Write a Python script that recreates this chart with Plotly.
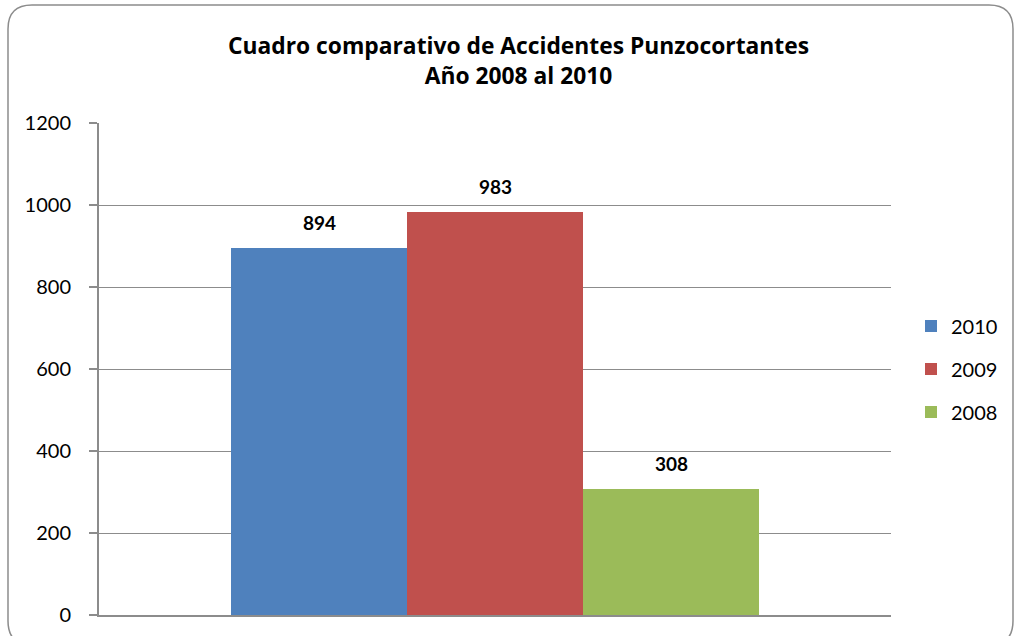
import plotly.graph_objects as go

# data
series = ["2010", "2009", "2008"]
values = [894, 983, 308]
colors = ["#4F81BD", "#C0504D", "#9BBB59"]
y_ticks = [0, 200, 400, 600, 800, 1000, 1200]

W, H = 1014, 636
L, R, T, B = 99, 123, 123, 21
pw, ph = W - L - R, H - T - B


def px2paper(x, y):
    return (x - L) / pw, 1 - (y - T) / ph


def rounded_rect(x0, y0, x1, y1, r):
    def p(x, y):
        a, b = px2paper(x, y)
        return f"{a:.5f},{b:.5f}"
    d = f"M {p(x0 + r, y0)} L {p(x1 - r, y0)} Q {p(x1, y0)} {p(x1, y0 + r)} "
    d += f"L {p(x1, y1 - r)} Q {p(x1, y1)} {p(x1 - r, y1)} "
    d += f"L {p(x0 + r, y1)} Q {p(x0, y1)} {p(x0, y1 - r)} "
    d += f"L {p(x0, y0 + r)} Q {p(x0, y0)} {p(x0 + r, y0)} Z"
    return d


fig = go.Figure()
for i, (name, v, c) in enumerate(zip(series, values, colors)):
    fig.add_trace(go.Bar(
        x=[f"s{i}"], y=[v], name=name, marker_color=c, marker_line_width=0,
        legendgroup=name, hoverinfo="skip",
    ))
    fig.add_annotation(
        x=i, y=v, text=f"<b>{v}</b>", showarrow=False, yanchor="bottom",
        yshift=12, font=dict(family="Lato", size=19, color="black"),
    )

fig.add_annotation(
    xref="paper", yref="paper", x=px2paper(518, 0)[0], y=px2paper(0, 60)[1],
    text="<b>Cuadro comparativo de Accidentes Punzocortantes<br>Año 2008 al 2010</b>",
    showarrow=False, yanchor="middle", font=dict(family="Open Sans", size=22.8, color="black"),
)

fig.add_shape(type="path", xref="paper", yref="paper",
              path=rounded_rect(8, 5, 1013, 645, 24),
              line=dict(color="#8C8C8C", width=1.5), layer="below")

fig.update_layout(
    width=W, height=H,
    margin=dict(l=L, r=R, t=T, b=B, autoexpand=False),
    paper_bgcolor="white", plot_bgcolor="white",
    barmode="group", bargap=0,
    showlegend=True,
    legend=dict(x=px2paper(911, 0)[0], y=px2paper(0, 369)[1], xanchor="left", yanchor="middle",
                font=dict(family="Lato", size=20, color="black"),
                tracegroupgap=14, itemwidth=30),
    xaxis=dict(type="category", range=[-1.25, 3.25], showticklabels=False, showgrid=False,
               showline=True, linecolor="#8C8C8C", linewidth=2, zeroline=False),
    yaxis=dict(range=[0, 1200], tickvals=y_ticks, showgrid=True, gridcolor="#8C8C8C",
               gridwidth=1.3, showline=True, linecolor="#8C8C8C", linewidth=2,
               ticks="outside", ticklen=8, tickcolor="#8C8C8C", tickwidth=1.5,
               ticklabelstandoff=14, zeroline=False,
               tickfont=dict(family="Lato", size=20, color="black")),
    font=dict(family="Lato"),
)

fig.write_html("out.html", config={"displayModeBar": False},
               post_script="document.body.style.margin='0';")
